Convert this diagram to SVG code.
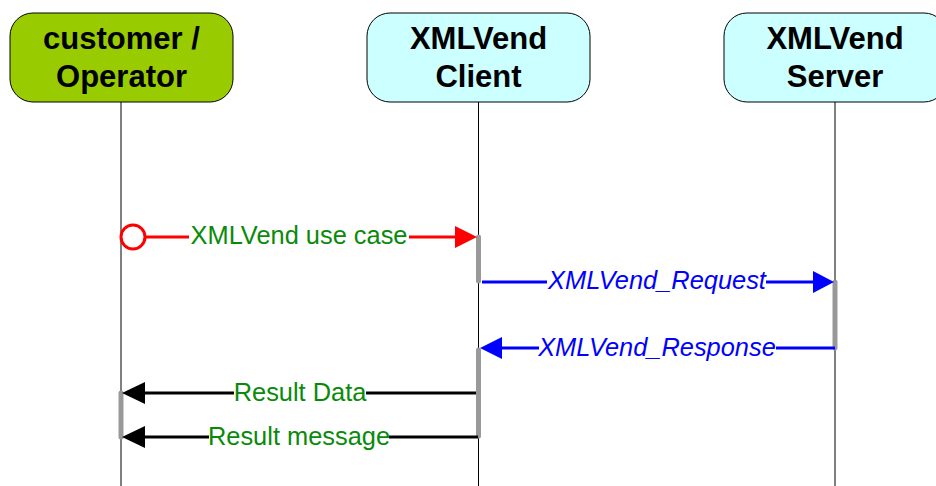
<svg xmlns="http://www.w3.org/2000/svg" width="936" height="486" viewBox="0 0 936 486">
<defs>
<style>
.box{stroke:#000;stroke-width:1}
.title{font-family:"Liberation Sans",Arial,sans-serif;font-weight:bold;font-size:31px;text-anchor:middle;fill:#000}
.life{stroke:#000;stroke-width:1}
.act{stroke:#999;stroke-width:5;stroke-linecap:round}
.lbl{font-family:"Liberation Sans",Arial,sans-serif;font-size:25.4px;text-anchor:middle}
.green{fill:#0a8a0a}
.blue{fill:#0000ff;font-style:italic}
.red{stroke:#ff0000;stroke-width:3;fill:none}
.bl{stroke:#0000ff;stroke-width:3;fill:none}
.bk{stroke:#000;stroke-width:3;fill:none}
</style>
</defs>
<rect width="936" height="486" fill="#fff"/>
<g id="lifelines">
<line class="life" x1="121" y1="102" x2="121" y2="486"/>
<line class="life" x1="478.5" y1="102" x2="478.5" y2="486"/>
<line class="life" x1="835" y1="102" x2="835" y2="486"/>
</g>
<g id="customer">
<rect class="box" x="10" y="13" width="223" height="89" rx="23" ry="23" fill="#99cc00"/>
<text class="title" x="121.5" y="49">customer /</text>
<text class="title" x="121.5" y="87">Operator</text>
</g>
<g id="client">
<rect class="box" x="367" y="13" width="223" height="89" rx="23" ry="23" fill="#ccffff"/>
<text class="title" x="478.5" y="49">XMLVend</text>
<text class="title" x="478.5" y="87">Client</text>
</g>
<g id="server">
<rect class="box" x="724" y="13" width="223" height="89" rx="23" ry="23" fill="#ccffff"/>
<text class="title" x="835" y="49">XMLVend</text>
<text class="title" x="835" y="87">Server</text>
</g>
<g id="activations">
<line class="act" x1="478.5" y1="237" x2="478.5" y2="281"/>
<line class="act" x1="835" y1="282" x2="835" y2="348"/>
<line class="act" x1="478.5" y1="350" x2="478.5" y2="436"/>
<line class="act" x1="121" y1="393" x2="121" y2="437"/>
</g>
<g id="connectors">
<circle cx="133" cy="237" r="12" fill="#fff" stroke="#ff0000" stroke-width="3"/>
<line class="red" x1="145" y1="237" x2="189" y2="237"/>
<line class="red" x1="409" y1="237" x2="457" y2="237"/>
<polygon points="477,237 455,226 455,248" fill="#ff0000"/>
<text class="lbl green" x="299" y="244">XMLVend use case</text>

<line class="bl" x1="482" y1="282" x2="547" y2="282"/>
<line class="bl" x1="766" y1="282" x2="815" y2="282"/>
<polygon points="834,282 813,271 813,293" fill="#0000ff"/>
<text class="lbl blue" x="657" y="289">XMLVend_Request</text>

<line class="bl" x1="835" y1="348" x2="776" y2="348"/>
<line class="bl" x1="539" y1="348" x2="500" y2="348"/>
<polygon points="480,348 502,337 502,359" fill="#0000ff"/>
<text class="lbl blue" x="657" y="356">XMLVend_Response</text>

<line class="bk" x1="476" y1="393" x2="366" y2="393"/>
<line class="bk" x1="234" y1="393" x2="143" y2="393"/>
<polygon points="122,393 145,382 145,404" fill="#000"/>
<text class="lbl green" x="300" y="401">Result Data</text>

<line class="bk" x1="478" y1="437" x2="389" y2="437"/>
<line class="bk" x1="209" y1="437" x2="143" y2="437"/>
<polygon points="122,437 145,426 145,448" fill="#000"/>
<text class="lbl green" x="299" y="445">Result message</text>
</g>
</svg>
